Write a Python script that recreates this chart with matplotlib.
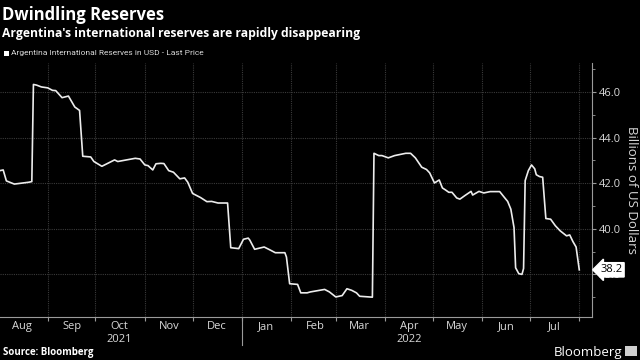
import numpy as np
import pandas as pd
import matplotlib
matplotlib.use("Agg")
import matplotlib.pyplot as plt
import matplotlib.dates as mdates
from matplotlib.transforms import blended_transform_factory

# Argentina international reserves, billions USD
dates = ["2021-08-02", "2021-08-04", "2021-08-06", "2021-08-11", "2021-08-20", "2021-08-22",
         "2021-08-23", "2021-08-25", "2021-08-28", "2021-09-01", "2021-09-04", "2021-09-06",
         "2021-09-10", "2021-09-14", "2021-09-18", "2021-09-21", "2021-09-23", "2021-09-28",
         "2021-09-30", "2021-10-05", "2021-10-13", "2021-10-15", "2021-10-26", "2021-10-29",
         "2021-11-01", "2021-11-03", "2021-11-06", "2021-11-08", "2021-11-11", "2021-11-13",
         "2021-11-16", "2021-11-19", "2021-11-23", "2021-11-26", "2021-11-28", "2021-12-01",
         "2021-12-06", "2021-12-10", "2021-12-13", "2021-12-17", "2021-12-23", "2021-12-25",
         "2021-12-30", "2022-01-02", "2022-01-05", "2022-01-06", "2022-01-09", "2022-01-15",
         "2022-01-19", "2022-01-22", "2022-01-28", "2022-01-29", "2022-01-31", "2022-02-05",
         "2022-02-07", "2022-02-11", "2022-02-13", "2022-02-22", "2022-02-25", "2022-03-01",
         "2022-03-05", "2022-03-08", "2022-03-11", "2022-03-14", "2022-03-16", "2022-03-24",
         "2022-03-25", "2022-03-28", "2022-03-30", "2022-04-03", "2022-04-07", "2022-04-14",
         "2022-04-17", "2022-04-20", "2022-04-24", "2022-04-27", "2022-04-29", "2022-05-02",
         "2022-05-05", "2022-05-07", "2022-05-09", "2022-05-11", "2022-05-13", "2022-05-16",
         "2022-05-18", "2022-05-21", "2022-05-25", "2022-05-26", "2022-05-30", "2022-06-02",
         "2022-06-06", "2022-06-12", "2022-06-15", "2022-06-17", "2022-06-19", "2022-06-21",
         "2022-06-22", "2022-06-24", "2022-06-26", "2022-06-27", "2022-06-28", "2022-06-30",
         "2022-07-02", "2022-07-04", "2022-07-05", "2022-07-07", "2022-07-09", "2022-07-11",
         "2022-07-14", "2022-07-17", "2022-07-20", "2022-07-24", "2022-07-26", "2022-07-28",
         "2022-07-30", "2022-08-01"]
reserves = [42.55, 42.58, 42.10, 41.96, 42.04, 42.07,
            46.33, 46.30, 46.22, 46.18, 46.07, 46.06,
            45.75, 45.82, 45.34, 45.19, 43.18, 43.15,
            42.95, 42.74, 43.02, 42.95, 43.09, 43.06,
            42.80, 42.77, 42.58, 42.85, 42.87, 42.86,
            42.55, 42.48, 42.19, 42.23, 42.04, 41.55,
            41.37, 41.19, 41.20, 41.13, 41.13, 39.17,
            39.13, 39.54, 39.59, 39.50, 39.10, 39.20,
            39.06, 38.95, 38.95, 38.76, 37.59, 37.56,
            37.19, 37.19, 37.23, 37.34, 37.23, 37.01,
            37.07, 37.37, 37.30, 37.19, 37.04, 37.00,
            43.31, 43.21, 43.21, 43.11, 43.21, 43.31,
            43.31, 43.11, 42.70, 42.60, 42.45, 42.01,
            42.14, 41.79, 41.70, 41.60, 41.60, 41.35,
            41.30, 41.45, 41.64, 41.48, 41.64, 41.57,
            41.63, 41.63, 41.37, 41.20, 40.86, 40.05,
            38.29, 38.03, 38.00, 38.26, 42.11, 42.55,
            42.80, 42.63, 42.37, 42.29, 42.26, 40.45,
            40.42, 40.13, 39.91, 39.69, 39.73, 39.44,
            39.20, 38.20]
last_label = "38.2"
y_ticks = [38.0, 40.0, 42.0, 44.0, 46.0]
years = ["2021", "2022"]
year_pos = ["2021-10-16", "2022-04-16"]

x = pd.to_datetime(dates)

bg = "black"
txt = "#d9d9d9"
grid_c = "#3a3a3a"
fam = ["Open Sans", "DejaVu Sans"]

fig = plt.figure(figsize=(6.4, 3.6), dpi=100, facecolor=bg)
ax = fig.add_axes([0.0, 0.1194, 0.925, 0.7056], facecolor=bg)

ax.plot(x, reserves, color="#ececec", linewidth=1.2, solid_joinstyle="round")

ax.set_xlim(pd.Timestamp("2021-08-02"), pd.Timestamp("2022-08-09"))
ax.set_ylim(36.13, 47.27)

# y axis on the right
ax.yaxis.tick_right()
ax.yaxis.set_label_position("right")
ax.set_yticks(y_ticks)
ax.set_yticklabels([f"{v:.1f}" for v in y_ticks])
ax.set_yticks([37, 39, 41, 43, 45, 47], minor=True)
ax.tick_params(axis="y", which="major", colors="#9a9a9a", length=3, width=0.8,
               labelcolor=txt, labelsize=8, pad=2)
ax.tick_params(axis="y", which="minor", colors="#9a9a9a", length=2, width=0.6)
ax.set_ylabel("Billions of US Dollars", rotation=270, color=txt, fontsize=9.5,
              labelpad=12, family=fam)

# x axis: month boundaries as major ticks, labels mid-month
ax.xaxis.set_major_locator(mdates.MonthLocator(bymonthday=1))
ax.xaxis.set_major_formatter(plt.NullFormatter())
ax.xaxis.set_minor_locator(mdates.MonthLocator(bymonthday=16))
ax.xaxis.set_minor_formatter(mdates.DateFormatter("%b"))
ax.tick_params(axis="x", which="major", colors="#9a9a9a", length=3, width=0.8)
ax.tick_params(axis="x", which="minor", length=0, labelcolor=txt, labelsize=8, pad=3)
for lab in ax.get_xticklabels(minor=True):
    lab.set_family(fam)
for lab in ax.get_yticklabels():
    lab.set_family(fam)

ax.grid(True, which="major", color=grid_c, linewidth=0.8, linestyle=(0, (1, 1)))

for s in ["top", "left"]:
    ax.spines[s].set_visible(False)
for s in ["bottom", "right"]:
    ax.spines[s].set_color("#9a9a9a")
    ax.spines[s].set_linewidth(0.8)

# year labels and separator
trans = blended_transform_factory(ax.transData, ax.transAxes)
for yr, pos in zip(years, year_pos):
    ax.text(pd.Timestamp(pos), -0.065, yr, transform=trans, ha="center", va="top",
            color=txt, fontsize=8, family=fam)
ax.plot([pd.Timestamp("2022-01-01")] * 2, [0, -0.11], transform=trans, color="#9a9a9a",
        linewidth=0.8, clip_on=False)

# last value tag
ax.annotate(last_label, xy=(1.0, reserves[-1]), xycoords=("axes fraction", "data"),
            xytext=(6, 0), textcoords="offset points", ha="left", va="center",
            fontsize=8, color="black", family=fam,
            bbox=dict(boxstyle="larrow,pad=0.15", fc="white", ec="white"))

# titles and legend
fig.text(0.003, 0.958, "Dwindling Reserves", color="white", fontsize=12, fontweight="bold",
         family=fam, va="center", ha="left")
fig.text(0.003, 0.906, "Argentina's international reserves are rapidly disappearing", color="white",
         fontsize=8.75, fontweight="bold", family=fam, va="center", ha="left")
fig.patches.append(plt.Rectangle((0.006, 0.845), 0.008, 0.014, transform=fig.transFigure,
                                 facecolor="white", edgecolor="none"))
fig.text(0.017, 0.852, "Argentina International Reserves in USD - Last Price", color=txt,
         fontsize=6, family=["Roboto", "DejaVu Sans"], va="center", ha="left")

fig.text(0.004, 0.022, "Source: Bloomberg", color="white", fontsize=7, fontweight="bold",
         family=fam, va="center", ha="left")
fig.text(0.972, 0.022, "Bloomberg", color="white", fontsize=9.5,
         family=fam, va="center", ha="right")
fig.patches.append(plt.Rectangle((0.977, 0.010), 0.018, 0.03, transform=fig.transFigure,
                                 facecolor="#cfcfcf", edgecolor="none"))

fig.savefig("out.png", dpi=100, facecolor=bg)
